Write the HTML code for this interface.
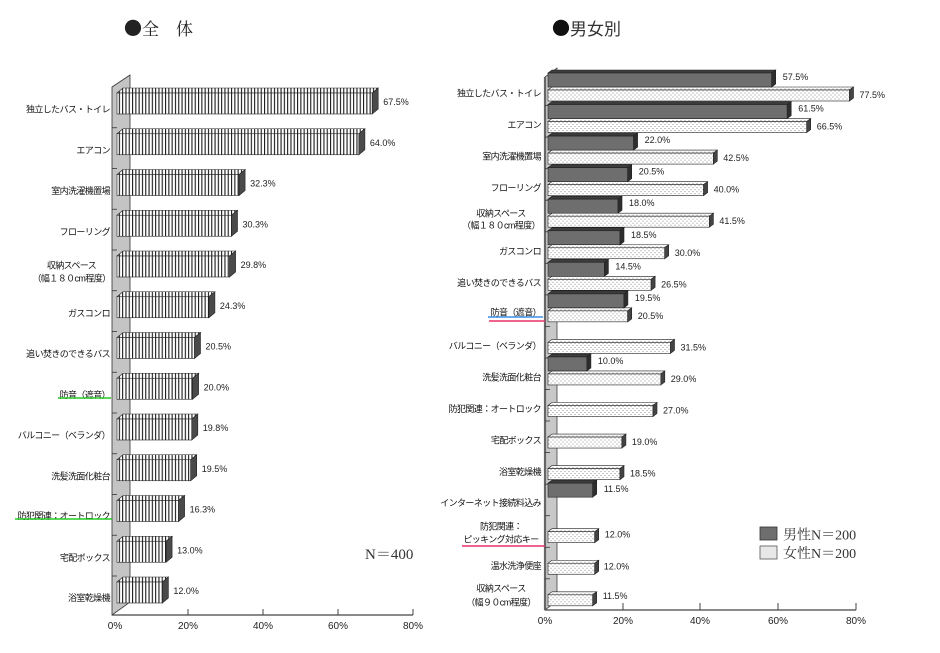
<!DOCTYPE html>
<html><head><meta charset="utf-8"><style>
html,body{margin:0;padding:0;background:#fff;}
svg{display:block;}
.lb{font-family:"Liberation Sans","Noto Sans CJK JP",sans-serif;font-size:9px;fill:#111;letter-spacing:-0.6px;}
.vl{font-family:"Liberation Sans",sans-serif;font-size:9px;fill:#222;}
.tk{font-family:"Liberation Sans",sans-serif;font-size:10px;fill:#222;}
.sr{font-family:"Liberation Serif","Noto Serif CJK SC",serif;fill:#333;}
</style></head><body>
<svg width="940" height="653" viewBox="0 0 940 653" xmlns="http://www.w3.org/2000/svg">
<defs>
<pattern id="vs" width="3.3" height="10" patternUnits="userSpaceOnUse">
<rect width="3.3" height="10" fill="#fff"/><rect x="0" width="1.1" height="10" fill="#1a1a1a"/>
</pattern>
<pattern id="dt" width="4" height="4" patternUnits="userSpaceOnUse">
<rect width="4" height="4" fill="#fff"/><rect x="0.5" y="0.5" width="1" height="1" fill="#8a8a8a"/><rect x="2.5" y="2.5" width="1" height="1" fill="#8a8a8a"/>
</pattern>
</defs>
<rect width="940" height="653" fill="#fff"/>

<!-- titles -->
<text x="124" y="35" font-size="17" fill="#222"><tspan style="font-family:'Noto Sans CJK JP',sans-serif" font-size="18">●</tspan><tspan style="font-family:'Noto Serif CJK SC','Noto Serif CJK JP',serif">全　体</tspan></text>
<text x="552" y="35" font-size="17" fill="#333"><tspan style="font-family:'Noto Sans CJK JP',sans-serif" font-size="18" fill="#111">●</tspan><tspan style="font-family:'Noto Sans CJK JP',sans-serif">男女別</tspan></text>

<!-- LEFT CHART -->
<polygon points="112,87 130,75 130,602 112,615" fill="#c4c4c4" stroke="#333" stroke-width="0.8"/>
<g stroke="#333" stroke-width="0.8">
<line x1="112" y1="127.75" x2="117" y2="127.75"/><line x1="112" y1="168.5" x2="117" y2="168.5"/>
<line x1="112" y1="209.25" x2="117" y2="209.25"/><line x1="112" y1="250" x2="117" y2="250"/>
<line x1="112" y1="290.75" x2="117" y2="290.75"/><line x1="112" y1="331.5" x2="117" y2="331.5"/>
<line x1="112" y1="372.25" x2="117" y2="372.25"/><line x1="112" y1="413" x2="117" y2="413"/>
<line x1="112" y1="453.75" x2="117" y2="453.75"/><line x1="112" y1="494.5" x2="117" y2="494.5"/>
<line x1="112" y1="535.25" x2="117" y2="535.25"/><line x1="112" y1="576" x2="117" y2="576"/>
</g>
<line x1="112" y1="615" x2="413" y2="615" stroke="#444" stroke-width="1.2"/>
<g stroke="#444" stroke-width="1"><line x1="188" y1="609" x2="188" y2="615"/><line x1="263" y1="609" x2="263" y2="615"/><line x1="338" y1="609" x2="338" y2="615"/><line x1="413" y1="609" x2="413" y2="615"/></g>
<text class="tk" x="115" y="629" text-anchor="middle">0%</text>
<text class="tk" x="188" y="629" text-anchor="middle">20%</text>
<text class="tk" x="263" y="629" text-anchor="middle">40%</text>
<text class="tk" x="338" y="629" text-anchor="middle">60%</text>
<text class="tk" x="413" y="629" text-anchor="middle">80%</text>

<g stroke="#222" stroke-width="0.6">
<g transform="translate(0,88)">
<polygon points="117,5 123,0 378.2,0 372.2,5" fill="url(#vs)"/><rect x="117" y="5" width="255.2" height="21" fill="url(#vs)"/><polygon points="372.2,5 378.2,0 378.2,21 372.2,26" fill="#4a4a4a"/>
<text class="vl" x="383.2" y="17" stroke="none">67.5%</text><text class="lb" x="110" y="24.5" text-anchor="end" stroke="none">独立したバス・トイレ</text></g>
<g transform="translate(0,128.75)">
<polygon points="117,5 123,0 364.9,0 358.9,5" fill="url(#vs)"/><rect x="117" y="5" width="241.9" height="21" fill="url(#vs)"/><polygon points="358.9,5 364.9,0 364.9,21 358.9,26" fill="#4a4a4a"/>
<text class="vl" x="369.9" y="17" stroke="none">64.0%</text><text class="lb" x="110" y="24.5" text-anchor="end" stroke="none">エアコン</text></g>
<g transform="translate(0,169.5)">
<polygon points="117,5 123,0 245.1,0 239.1,5" fill="url(#vs)"/><rect x="117" y="5" width="122.1" height="21" fill="url(#vs)"/><polygon points="239.1,5 245.1,0 245.1,21 239.1,26" fill="#4a4a4a"/>
<text class="vl" x="250.1" y="17" stroke="none">32.3%</text><text class="lb" x="110" y="24.5" text-anchor="end" stroke="none">室内洗濯機置場</text></g>
<g transform="translate(0,210.25)">
<polygon points="117,5 123,0 237.5,0 231.5,5" fill="url(#vs)"/><rect x="117" y="5" width="114.5" height="21" fill="url(#vs)"/><polygon points="231.5,5 237.5,0 237.5,21 231.5,26" fill="#4a4a4a"/>
<text class="vl" x="242.5" y="17" stroke="none">30.3%</text><text class="lb" x="110" y="24.5" text-anchor="end" stroke="none">フローリング</text></g>
<g transform="translate(0,251)">
<polygon points="117,5 123,0 235.6,0 229.6,5" fill="url(#vs)"/><rect x="117" y="5" width="112.6" height="21" fill="url(#vs)"/><polygon points="229.6,5 235.6,0 235.6,21 229.6,26" fill="#4a4a4a"/>
<text class="vl" x="240.6" y="17" stroke="none">29.8%</text>
<text class="lb" x="71.5" y="17.5" text-anchor="middle" stroke="none">収納スペース</text>
<text class="lb" x="71.5" y="30.5" text-anchor="middle" stroke="none">（幅１８０cm程度）</text></g>
<g transform="translate(0,291.75)">
<polygon points="117,5 123,0 214.9,0 208.9,5" fill="url(#vs)"/><rect x="117" y="5" width="91.9" height="21" fill="url(#vs)"/><polygon points="208.9,5 214.9,0 214.9,21 208.9,26" fill="#4a4a4a"/>
<text class="vl" x="219.9" y="17" stroke="none">24.3%</text><text class="lb" x="110" y="24.5" text-anchor="end" stroke="none">ガスコンロ</text></g>
<g transform="translate(0,332.5)">
<polygon points="117,5 123,0 200.5,0 194.5,5" fill="url(#vs)"/><rect x="117" y="5" width="77.5" height="21" fill="url(#vs)"/><polygon points="194.5,5 200.5,0 200.5,21 194.5,26" fill="#4a4a4a"/>
<text class="vl" x="205.5" y="17" stroke="none">20.5%</text><text class="lb" x="110" y="24.5" text-anchor="end" stroke="none">追い焚きのできるバス</text></g>
<g transform="translate(0,373.25)">
<polygon points="117,5 123,0 198.6,0 192.6,5" fill="url(#vs)"/><rect x="117" y="5" width="75.6" height="21" fill="url(#vs)"/><polygon points="192.6,5 198.6,0 198.6,21 192.6,26" fill="#4a4a4a"/>
<text class="vl" x="203.6" y="17" stroke="none">20.0%</text><text class="lb" x="110" y="24.5" text-anchor="end" stroke="none">防音（遮音）</text></g>
<g transform="translate(0,414)">
<polygon points="117,5 123,0 197.8,0 191.8,5" fill="url(#vs)"/><rect x="117" y="5" width="74.8" height="21" fill="url(#vs)"/><polygon points="191.8,5 197.8,0 197.8,21 191.8,26" fill="#4a4a4a"/>
<text class="vl" x="202.8" y="17" stroke="none">19.8%</text><text class="lb" x="110" y="24.5" text-anchor="end" stroke="none">バルコニー（ベランダ）</text></g>
<g transform="translate(0,454.75)">
<polygon points="117,5 123,0 196.7,0 190.7,5" fill="url(#vs)"/><rect x="117" y="5" width="73.7" height="21" fill="url(#vs)"/><polygon points="190.7,5 196.7,0 196.7,21 190.7,26" fill="#4a4a4a"/>
<text class="vl" x="201.7" y="17" stroke="none">19.5%</text><text class="lb" x="110" y="24.5" text-anchor="end" stroke="none">洗髪洗面化粧台</text></g>
<g transform="translate(0,495.5)">
<polygon points="117,5 123,0 184.6,0 178.6,5" fill="url(#vs)"/><rect x="117" y="5" width="61.6" height="21" fill="url(#vs)"/><polygon points="178.6,5 184.6,0 184.6,21 178.6,26" fill="#4a4a4a"/>
<text class="vl" x="189.6" y="17" stroke="none">16.3%</text><text class="lb" x="110" y="23.5" text-anchor="end" stroke="none">防犯関連：オートロック</text></g>
<g transform="translate(0,536.25)">
<polygon points="117,5 123,0 172.1,0 166.1,5" fill="url(#vs)"/><rect x="117" y="5" width="49.1" height="21" fill="url(#vs)"/><polygon points="166.1,5 172.1,0 172.1,21 166.1,26" fill="#4a4a4a"/>
<text class="vl" x="177.1" y="17" stroke="none">13.0%</text><text class="lb" x="110" y="24.5" text-anchor="end" stroke="none">宅配ボックス</text></g>
<g transform="translate(0,577)">
<polygon points="117,5 123,0 168.4,0 162.4,5" fill="url(#vs)"/><rect x="117" y="5" width="45.4" height="21" fill="url(#vs)"/><polygon points="162.4,5 168.4,0 168.4,21 162.4,26" fill="#4a4a4a"/>
<text class="vl" x="173.4" y="17" stroke="none">12.0%</text><text class="lb" x="110" y="24" text-anchor="end" stroke="none">浴室乾燥機</text></g>
</g>
<line x1="58" y1="398" x2="111" y2="398" stroke="#22cc22" stroke-width="1.5"/>
<line x1="15" y1="519" x2="112" y2="519" stroke="#22cc22" stroke-width="1.5"/>
<text class="sr" x="365" y="559" font-size="15">N＝400</text>

<!-- RIGHT CHART -->
<polygon points="545,77 557,68 557,601 545,610" fill="#c8c8c8" stroke="#444" stroke-width="0.8"/>
<line x1="545" y1="77" x2="545" y2="610" stroke="#666" stroke-width="2.2"/>
<g stroke="#333" stroke-width="0.8">
<line x1="545" y1="105.6" x2="550" y2="105.6"/><line x1="545" y1="137.1" x2="550" y2="137.1"/><line x1="545" y1="168.7" x2="550" y2="168.7"/>
<line x1="545" y1="200.2" x2="550" y2="200.2"/><line x1="545" y1="231.8" x2="550" y2="231.8"/><line x1="545" y1="263.3" x2="550" y2="263.3"/>
<line x1="545" y1="294.9" x2="550" y2="294.9"/><line x1="545" y1="326.4" x2="550" y2="326.4"/><line x1="545" y1="358" x2="550" y2="358"/>
<line x1="545" y1="389.5" x2="550" y2="389.5"/><line x1="545" y1="421" x2="550" y2="421"/><line x1="545" y1="452.6" x2="550" y2="452.6"/>
<line x1="545" y1="484.2" x2="550" y2="484.2"/><line x1="545" y1="515.7" x2="550" y2="515.7"/><line x1="545" y1="547.3" x2="550" y2="547.3"/>
<line x1="545" y1="578.8" x2="550" y2="578.8"/>
</g>
<line x1="545" y1="610" x2="856" y2="610" stroke="#444" stroke-width="1.2"/>
<g stroke="#444" stroke-width="1"><line x1="623" y1="603" x2="623" y2="610"/><line x1="700" y1="603" x2="700" y2="610"/><line x1="778" y1="603" x2="778" y2="610"/><line x1="856" y1="603" x2="856" y2="610"/></g>
<text class="tk" x="545" y="624" text-anchor="middle">0%</text>
<text class="tk" x="623" y="624" text-anchor="middle">20%</text>
<text class="tk" x="700" y="624" text-anchor="middle">40%</text>
<text class="tk" x="778" y="624" text-anchor="middle">60%</text>
<text class="tk" x="856" y="624" text-anchor="middle">80%</text>

<g stroke="#222" stroke-width="0.6">
<g transform="translate(0,72)">
<polygon points="548,18 552,15 853.5,15 849.5,18" fill="url(#dt)"/><rect x="548" y="18" width="301.5" height="11" fill="url(#dt)"/><polygon points="849.5,18 853.5,15 853.5,26 849.5,29" fill="#444"/>
<polygon points="548,1 552,-2 775.7,-2 771.7,1" fill="#3c3c3c"/><rect x="548" y="1" width="223.7" height="14" fill="#6e6e6e"/><polygon points="771.7,1 775.7,-2 775.7,12 771.7,15" fill="#2e2e2e"/>
<text class="vl" x="782.7" y="8" stroke="none">57.5%</text><text class="vl" x="859.5" y="26" stroke="none">77.5%</text>
<text class="lb" x="541" y="24.5" text-anchor="end" stroke="none">独立したバス・トイレ</text></g>
<g transform="translate(0,103.55)">
<polygon points="548,18 552,15 810.7,15 806.7,18" fill="url(#dt)"/><rect x="548" y="18" width="258.7" height="11" fill="url(#dt)"/><polygon points="806.7,18 810.7,15 810.7,26 806.7,29" fill="#444"/>
<polygon points="548,1 552,-2 791.2,-2 787.2,1" fill="#3c3c3c"/><rect x="548" y="1" width="239.2" height="14" fill="#6e6e6e"/><polygon points="787.2,1 791.2,-2 791.2,12 787.2,15" fill="#2e2e2e"/>
<text class="vl" x="798.2" y="8" stroke="none">61.5%</text><text class="vl" x="816.7" y="26" stroke="none">66.5%</text>
<text class="lb" x="541" y="24.5" text-anchor="end" stroke="none">エアコン</text></g>
<g transform="translate(0,135.1)">
<polygon points="548,18 552,15 717.3,15 713.3,18" fill="url(#dt)"/><rect x="548" y="18" width="165.3" height="11" fill="url(#dt)"/><polygon points="713.3,18 717.3,15 717.3,26 713.3,29" fill="#444"/>
<polygon points="548,1 552,-2 637.6,-2 633.6,1" fill="#3c3c3c"/><rect x="548" y="1" width="85.6" height="14" fill="#6e6e6e"/><polygon points="633.6,1 637.6,-2 637.6,12 633.6,15" fill="#2e2e2e"/>
<text class="vl" x="644.6" y="8" stroke="none">22.0%</text><text class="vl" x="723.3" y="26" stroke="none">42.5%</text>
<text class="lb" x="541" y="24.5" text-anchor="end" stroke="none">室内洗濯機置場</text></g>
<g transform="translate(0,166.65)">
<polygon points="548,18 552,15 707.6,15 703.6,18" fill="url(#dt)"/><rect x="548" y="18" width="155.6" height="11" fill="url(#dt)"/><polygon points="703.6,18 707.6,15 707.6,26 703.6,29" fill="#444"/>
<polygon points="548,1 552,-2 631.7,-2 627.7,1" fill="#3c3c3c"/><rect x="548" y="1" width="79.7" height="14" fill="#6e6e6e"/><polygon points="627.7,1 631.7,-2 631.7,12 627.7,15" fill="#2e2e2e"/>
<text class="vl" x="638.7" y="8" stroke="none">20.5%</text><text class="vl" x="713.6" y="26" stroke="none">40.0%</text>
<text class="lb" x="541" y="24.5" text-anchor="end" stroke="none">フローリング</text></g>
<g transform="translate(0,198.2)">
<polygon points="548,18 552,15 713.4,15 709.4,18" fill="url(#dt)"/><rect x="548" y="18" width="161.4" height="11" fill="url(#dt)"/><polygon points="709.4,18 713.4,15 713.4,26 709.4,29" fill="#444"/>
<polygon points="548,1 552,-2 622,-2 618,1" fill="#3c3c3c"/><rect x="548" y="1" width="70" height="14" fill="#6e6e6e"/><polygon points="618,1 622,-2 622,12 618,15" fill="#2e2e2e"/>
<text class="vl" x="629" y="8" stroke="none">18.0%</text><text class="vl" x="719.4" y="26" stroke="none">41.5%</text>
<text class="lb" x="501" y="18.3" text-anchor="middle" stroke="none">収納スペース</text>
<text class="lb" x="501" y="30.3" text-anchor="middle" stroke="none">（幅１８０cm程度）</text></g>
<g transform="translate(0,229.75)">
<polygon points="548,18 552,15 668.7,15 664.7,18" fill="url(#dt)"/><rect x="548" y="18" width="116.7" height="11" fill="url(#dt)"/><polygon points="664.7,18 668.7,15 668.7,26 664.7,29" fill="#444"/>
<polygon points="548,1 552,-2 624,-2 620,1" fill="#3c3c3c"/><rect x="548" y="1" width="72" height="14" fill="#6e6e6e"/><polygon points="620,1 624,-2 624,12 620,15" fill="#2e2e2e"/>
<text class="vl" x="631" y="8" stroke="none">18.5%</text><text class="vl" x="674.7" y="26" stroke="none">30.0%</text>
<text class="lb" x="541" y="24.5" text-anchor="end" stroke="none">ガスコンロ</text></g>
<g transform="translate(0,261.3)">
<polygon points="548,18 552,15 655.1,15 651.1,18" fill="url(#dt)"/><rect x="548" y="18" width="103.1" height="11" fill="url(#dt)"/><polygon points="651.1,18 655.1,15 655.1,26 651.1,29" fill="#444"/>
<polygon points="548,1 552,-2 608.4,-2 604.4,1" fill="#3c3c3c"/><rect x="548" y="1" width="56.4" height="14" fill="#6e6e6e"/><polygon points="604.4,1 608.4,-2 608.4,12 604.4,15" fill="#2e2e2e"/>
<text class="vl" x="615.4" y="8" stroke="none">14.5%</text><text class="vl" x="661.1" y="26" stroke="none">26.5%</text>
<text class="lb" x="541" y="24.5" text-anchor="end" stroke="none">追い焚きのできるバス</text></g>
<g transform="translate(0,292.85)">
<polygon points="548,18 552,15 631.7,15 627.7,18" fill="url(#dt)"/><rect x="548" y="18" width="79.7" height="11" fill="url(#dt)"/><polygon points="627.7,18 631.7,15 631.7,26 627.7,29" fill="#444"/>
<polygon points="548,1 552,-2 627.9,-2 623.9,1" fill="#3c3c3c"/><rect x="548" y="1" width="75.9" height="14" fill="#6e6e6e"/><polygon points="623.9,1 627.9,-2 627.9,12 623.9,15" fill="#2e2e2e"/>
<text class="vl" x="634.9" y="8" stroke="none">19.5%</text><text class="vl" x="637.7" y="26" stroke="none">20.5%</text>
<text class="lb" x="541" y="22.5" text-anchor="end" stroke="none">防音（遮音）</text></g>
<g transform="translate(0,324.4)">
<polygon points="548,18 552,15 674.5,15 670.5,18" fill="url(#dt)"/><rect x="548" y="18" width="122.5" height="11" fill="url(#dt)"/><polygon points="670.5,18 674.5,15 674.5,26 670.5,29" fill="#444"/>
<text class="vl" x="680.5" y="26" stroke="none">31.5%</text>
<text class="lb" x="541" y="24.5" text-anchor="end" stroke="none">バルコニー（ベランダ）</text></g>
<g transform="translate(0,355.95)">
<polygon points="548,18 552,15 664.8,15 660.8,18" fill="url(#dt)"/><rect x="548" y="18" width="112.8" height="11" fill="url(#dt)"/><polygon points="660.8,18 664.8,15 664.8,26 660.8,29" fill="#444"/>
<polygon points="548,1 552,-2 590.9,-2 586.9,1" fill="#3c3c3c"/><rect x="548" y="1" width="38.9" height="14" fill="#6e6e6e"/><polygon points="586.9,1 590.9,-2 590.9,12 586.9,15" fill="#2e2e2e"/>
<text class="vl" x="597.9" y="8" stroke="none">10.0%</text><text class="vl" x="670.8" y="26" stroke="none">29.0%</text>
<text class="lb" x="541" y="24.5" text-anchor="end" stroke="none">洗髪洗面化粧台</text></g>
<g transform="translate(0,387.5)">
<polygon points="548,18 552,15 657,15 653,18" fill="url(#dt)"/><rect x="548" y="18" width="105" height="11" fill="url(#dt)"/><polygon points="653,18 657,15 657,26 653,29" fill="#444"/>
<text class="vl" x="663" y="26" stroke="none">27.0%</text>
<text class="lb" x="541" y="24.5" text-anchor="end" stroke="none">防犯関連：オートロック</text></g>
<g transform="translate(0,419.05)">
<polygon points="548,18 552,15 625.9,15 621.9,18" fill="url(#dt)"/><rect x="548" y="18" width="73.9" height="11" fill="url(#dt)"/><polygon points="621.9,18 625.9,15 625.9,26 621.9,29" fill="#444"/>
<text class="vl" x="631.9" y="26" stroke="none">19.0%</text>
<text class="lb" x="541" y="24.5" text-anchor="end" stroke="none">宅配ボックス</text></g>
<g transform="translate(0,450.6)">
<polygon points="548,18 552,15 624,15 620,18" fill="url(#dt)"/><rect x="548" y="18" width="72" height="11" fill="url(#dt)"/><polygon points="620,18 624,15 624,26 620,29" fill="#444"/>
<text class="vl" x="630" y="26" stroke="none">18.5%</text>
<text class="lb" x="541" y="24.5" text-anchor="end" stroke="none">浴室乾燥機</text></g>
<g transform="translate(0,482.15)">
<polygon points="548,1 552,-2 596.7,-2 592.7,1" fill="#3c3c3c"/><rect x="548" y="1" width="44.7" height="14" fill="#6e6e6e"/><polygon points="592.7,1 596.7,-2 596.7,12 592.7,15" fill="#2e2e2e"/>
<text class="vl" x="603.7" y="10" stroke="none">11.5%</text>
<text class="lb" x="541" y="24" text-anchor="end" stroke="none">インターネット接続料込み</text></g>
<g transform="translate(0,513.7)">
<polygon points="548,18 552,15 598.7,15 594.7,18" fill="url(#dt)"/><rect x="548" y="18" width="46.7" height="11" fill="url(#dt)"/><polygon points="594.7,18 598.7,15 598.7,26 594.7,29" fill="#444"/>
<text class="vl" x="604.7" y="24" stroke="none">12.0%</text>
<text class="lb" x="501" y="15.8" text-anchor="middle" stroke="none">防犯関連：</text>
<text class="lb" x="501" y="28.8" text-anchor="middle" stroke="none">ピッキング対応キー</text></g>
<g transform="translate(0,545.25)">
<polygon points="548,18 552,15 598.7,15 594.7,18" fill="url(#dt)"/><rect x="548" y="18" width="46.7" height="11" fill="url(#dt)"/><polygon points="594.7,18 598.7,15 598.7,26 594.7,29" fill="#444"/>
<text class="vl" x="603.7" y="24" stroke="none">12.0%</text>
<text class="lb" x="541" y="23.5" text-anchor="end" stroke="none">温水洗浄便座</text></g>
<g transform="translate(0,576.8)">
<polygon points="548,18 552,15 596.7,15 592.7,18" fill="url(#dt)"/><rect x="548" y="18" width="44.7" height="11" fill="url(#dt)"/><polygon points="592.7,18 596.7,15 596.7,26 592.7,29" fill="#444"/>
<text class="vl" x="602.7" y="22" stroke="none">11.5%</text>
<text class="lb" x="501" y="14.7" text-anchor="middle" stroke="none">収納スペース</text>
<text class="lb" x="501" y="28.7" text-anchor="middle" stroke="none">（幅９０cm程度）</text></g>
</g>
<line x1="488" y1="317" x2="543" y2="317" stroke="#3a8ee6" stroke-width="1.4"/>
<line x1="489" y1="321" x2="545" y2="321" stroke="#e8306a" stroke-width="1.4"/>
<line x1="462" y1="546" x2="545" y2="546" stroke="#e8306a" stroke-width="1.4"/>

<!-- legend -->
<rect x="760" y="527" width="17" height="13" fill="#6e6e6e" stroke="#333" stroke-width="0.8"/>
<text class="sr" x="783" y="539.5" font-size="14">男性N＝200</text>
<rect x="760" y="546" width="17" height="13" fill="#e8e8e8" stroke="#555" stroke-width="0.8"/>
<text class="sr" x="783" y="558" font-size="14">女性N＝200</text>
</svg>
</body></html>
